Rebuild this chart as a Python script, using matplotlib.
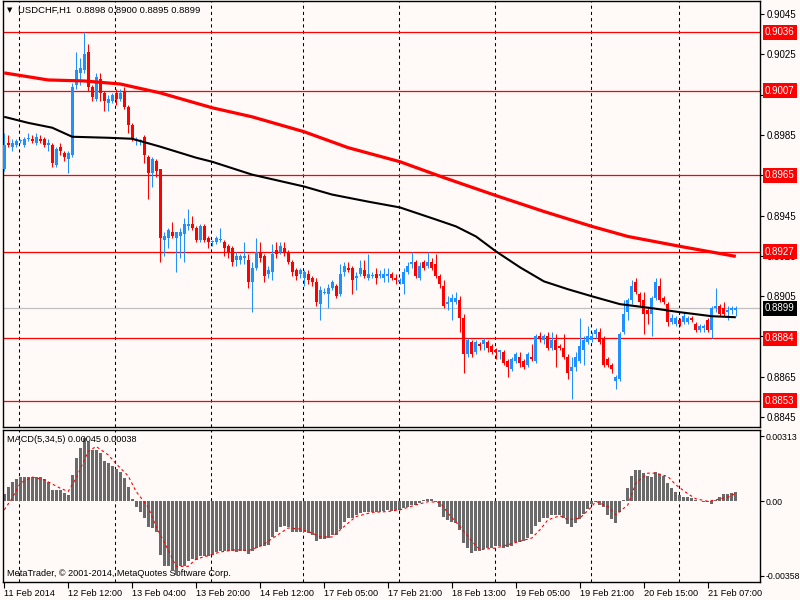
import numpy as np
import matplotlib
matplotlib.use("Agg")
import matplotlib.pyplot as plt
import matplotlib.transforms as mtransforms

plt.rcParams['font.family'] = ['Liberation Sans', 'DejaVu Sans']

# USDCHF H1, prices in pips (x 0.0001)
opens = [
    8968, 8981, 8979, 8980, 8982, 8980, 8983, 8983, 8981, 8983,
    8983, 8980, 8980, 8970, 8979, 8976, 8973, 8975, 9010, 9016,
    9017, 9026, 9009, 9003, 9013, 9006, 9001, 9002, 9006, 9003,
    9007, 8999, 8990, 8982, 8982, 8984, 8974, 8966, 8972, 8968,
    8933, 8934, 8937, 8934, 8935, 8936, 8940, 8941, 8939, 8933,
    8940, 8934, 8932, 8932, 8933, 8932, 8930, 8929, 8923, 8923,
    8924, 8923, 8912, 8919, 8927, 8925, 8916, 8917, 8928, 8927,
    8929, 8927, 8922, 8918, 8916, 8914, 8916, 8914, 8912, 8901,
    8907, 8906, 8909, 8910, 8906, 8917, 8919, 8919, 8914, 8916,
    8918, 8914, 8915, 8916, 8915, 8914, 8915, 8916, 8914, 8912,
    8911, 8917, 8921, 8922, 8914, 8922, 8920, 8922, 8921, 8915,
    8910, 8901, 8902, 8902, 8903, 8894, 8876, 8882, 8877, 8881,
    8881, 8882, 8880, 8878, 8877, 8877, 8873, 8869, 8873, 8875,
    8873, 8871, 8875, 8873, 8885, 8883, 8885, 8879, 8883, 8880,
    8879, 8875, 8868, 8870, 8873, 8878, 8882, 8883, 8886, 8887,
    8884, 8874, 8871, 8863, 8864, 8887, 8897, 8903, 8912, 8906,
    8903, 8898, 8896, 8904, 8910, 8904, 8901, 8892, 8891, 8893,
    8892, 8892, 8894, 8891, 8888, 8889, 8893, 8888, 8899, 8900,
    8899, 8897, 8898, 8898]
highs = [
    8986, 8985, 8983, 8983, 8983, 8984, 8986, 8985, 8986, 8985,
    8984, 8983, 8981, 8979, 8981, 8977, 8977, 9011, 9026, 9023,
    9036, 9030, 9010, 9016, 9016, 9007, 9005, 9006, 9008, 9008,
    9009, 9000, 8991, 8984, 8983, 8985, 8975, 8974, 8973, 8968,
    8937, 8939, 8942, 8937, 8939, 8944, 8948, 8945, 8940, 8941,
    8941, 8935, 8933, 8935, 8939, 8933, 8931, 8930, 8927, 8926,
    8932, 8926, 8922, 8934, 8932, 8926, 8920, 8931, 8932, 8932,
    8932, 8928, 8923, 8919, 8919, 8918, 8918, 8915, 8914, 8910,
    8909, 8911, 8913, 8911, 8921, 8922, 8922, 8920, 8917, 8923,
    8923, 8926, 8917, 8919, 8918, 8919, 8919, 8917, 8916, 8914,
    8919, 8922, 8927, 8923, 8922, 8923, 8927, 8924, 8926, 8916,
    8913, 8905, 8906, 8907, 8905, 8896, 8884, 8883, 8883, 8882,
    8884, 8883, 8881, 8879, 8878, 8878, 8874, 8875, 8877, 8877,
    8874, 8877, 8881, 8886, 8887, 8886, 8887, 8887, 8886, 8881,
    8886, 8876, 8875, 8877, 8894, 8885, 8890, 8887, 8889, 8889,
    8885, 8875, 8872, 8866, 8887, 8903, 8904, 8913, 8914, 8907,
    8907, 8899, 8905, 8914, 8914, 8905, 8902, 8896, 8895, 8894,
    8897, 8895, 8895, 8892, 8891, 8891, 8894, 8900, 8909, 8901,
    8902, 8900, 8900, 8900]
lows = [
    8967, 8979, 8977, 8979, 8981, 8979, 8982, 8981, 8980, 8981,
    8979, 8977, 8969, 8969, 8975, 8972, 8966, 8974, 9008, 9010,
    9016, 9007, 9002, 9002, 9002, 8997, 8997, 9001, 9000, 9002,
    8998, 8986, 8982, 8980, 8980, 8971, 8953, 8959, 8964, 8922,
    8925, 8929, 8934, 8917, 8924, 8922, 8938, 8938, 8932, 8932,
    8932, 8929, 8930, 8931, 8932, 8925, 8924, 8920, 8920, 8921,
    8921, 8909, 8897, 8918, 8922, 8912, 8914, 8913, 8924, 8926,
    8925, 8921, 8915, 8913, 8914, 8910, 8911, 8910, 8900, 8893,
    8906, 8899, 8908, 8904, 8905, 8915, 8917, 8906, 8908, 8915,
    8914, 8913, 8914, 8911, 8914, 8912, 8912, 8913, 8911, 8911,
    8906, 8916, 8919, 8914, 8913, 8918, 8919, 8918, 8914, 8909,
    8899, 8898, 8893, 8901, 8887, 8867, 8875, 8875, 8876, 8878,
    8878, 8877, 8876, 8874, 8874, 8871, 8865, 8868, 8872, 8870,
    8869, 8870, 8873, 8872, 8882, 8881, 8878, 8878, 8870, 8878,
    8874, 8864, 8854, 8868, 8872, 8871, 8881, 8882, 8884, 8881,
    8870, 8870, 8867, 8859, 8863, 8886, 8893, 8901, 8906, 8900,
    8886, 8891, 8885, 8903, 8902, 8901, 8890, 8891, 8890, 8890,
    8891, 8891, 8892, 8887, 8887, 8887, 8887, 8884, 8897, 8895,
    8895, 8893, 8896, 8895]
closes = [
    8980, 8980, 8981, 8982, 8982, 8983, 8983, 8982, 8984, 8982,
    8980, 8981, 8971, 8978, 8977, 8974, 8976, 9009, 9017, 9018,
    9025, 9009, 9004, 9014, 9006, 9002, 9003, 9005, 9003, 9006,
    8999, 8990, 8983, 8983, 8982, 8975, 8966, 8973, 8967, 8934,
    8935, 8938, 8935, 8937, 8937, 8941, 8941, 8939, 8933, 8940,
    8933, 8932, 8932, 8934, 8933, 8929, 8927, 8922, 8925, 8925,
    8925, 8912, 8919, 8927, 8924, 8915, 8918, 8926, 8926, 8930,
    8927, 8922, 8917, 8915, 8918, 8917, 8913, 8912, 8902, 8908,
    8907, 8909, 8912, 8905, 8916, 8920, 8918, 8913, 8915, 8919,
    8915, 8916, 8915, 8914, 8916, 8916, 8916, 8914, 8913, 8913,
    8917, 8920, 8922, 8915, 8920, 8919, 8922, 8919, 8915, 8911,
    8900, 8902, 8904, 8904, 8894, 8876, 8883, 8876, 8882, 8880,
    8883, 8879, 8877, 8877, 8878, 8872, 8870, 8874, 8876, 8872,
    8870, 8876, 8874, 8885, 8884, 8885, 8879, 8883, 8878, 8879,
    8875, 8867, 8870, 8875, 8880, 8883, 8885, 8885, 8888, 8882,
    8871, 8871, 8869, 8865, 8886, 8896, 8903, 8910, 8907, 8902,
    8896, 8896, 8904, 8912, 8903, 8902, 8892, 8894, 8894, 8891,
    8895, 8894, 8893, 8888, 8890, 8890, 8888, 8899, 8900, 8896,
    8896, 8898, 8899, 8899]

# moving averages read at sample bars
ma_red_bars = [0, 11, 20, 29, 39, 52, 62, 75, 86, 99, 110, 123, 135, 147, 156, 169, 183]
ma_red = [0.90158, 0.90123, 0.90118, 0.90103, 0.90059, 0.89985, 0.89940, 0.89866, 0.89787,
          0.89717, 0.89638, 0.89549, 0.89470, 0.89396, 0.89346, 0.89297, 0.89247]
ma_black_bars = [0, 6, 12, 17, 26, 32, 39, 48, 52, 62, 75, 82, 91, 99, 108, 113, 118, 123,
                 129, 135, 141, 147, 154, 162, 169, 177, 183]
ma_black = [0.89940, 0.89910, 0.89886, 0.89841, 0.89836, 0.89831, 0.89792, 0.89737, 0.89717,
            0.89653, 0.89594, 0.89554, 0.89519, 0.89490, 0.89430, 0.89396, 0.89346, 0.89272,
            0.89193, 0.89123, 0.89084, 0.89049, 0.89010, 0.88990, 0.88970, 0.88950, 0.88945]

# MACD(5,34,5) histogram, one per bar
macd = [
    0.00036, 0.00071, 0.00095, 0.00108, 0.00116, 0.00116, 0.00116, 0.00116, 0.00116, 0.00116,
    0.00106, 0.00095, 0.00055, 0.00055, 0.00052, 0.00042, 0.00031, 0.00127, 0.00210, 0.00258,
    0.00303, 0.00286, 0.00247, 0.00247, 0.00231, 0.00194, 0.00183, 0.00167, 0.00154, 0.00140,
    0.00114, 0.00068, 0.00012, -0.00025, -0.00049, -0.00078, -0.00125, -0.00128, -0.00149, -0.00256,
    -0.00312, -0.00312, -0.00336, -0.00352, -0.00312, -0.00312, -0.00288, -0.00277, -0.00280, -0.00264,
    -0.00264, -0.00260, -0.00256, -0.00243, -0.00237, -0.00237, -0.00237, -0.00240, -0.00243, -0.00237,
    -0.00237, -0.00253, -0.00237, -0.00224, -0.00213, -0.00213, -0.00208, -0.00173, -0.00145, -0.00125,
    -0.00117, -0.00124, -0.00149, -0.00145, -0.00145, -0.00149, -0.00152, -0.00160, -0.00188, -0.00181,
    -0.00181, -0.00176, -0.00160, -0.00160, -0.00133, -0.00097, -0.00078, -0.00078, -0.00065, -0.00057,
    -0.00053, -0.00053, -0.00053, -0.00049, -0.00049, -0.00046, -0.00044, -0.00046, -0.00044, -0.00044,
    -0.00033, -0.00025, -0.00017, -0.00017, -0.00009, 0.00004, 0.00012, 0.00012, -0.00002, -0.00025,
    -0.00073, -0.00089, -0.00101, -0.00105, -0.00137, -0.00200, -0.00224, -0.00248, -0.00240, -0.00236,
    -0.00228, -0.00224, -0.00224, -0.00216, -0.00216, -0.00224, -0.00220, -0.00213, -0.00197, -0.00197,
    -0.00192, -0.00176, -0.00156, -0.00119, -0.00097, -0.00078, -0.00078, -0.00065, -0.00065, -0.00068,
    -0.00078, -0.00108, -0.00121, -0.00105, -0.00085, -0.00060, -0.00037, -0.00015, -0.00003, -0.00017,
    -0.00028, -0.00065, -0.00085, -0.00105, -0.00049, 0.00005, 0.00063, 0.00122, 0.00151, 0.00151,
    0.00135, 0.00122, 0.00116, 0.00140, 0.00132, 0.00122, 0.00087, 0.00063, 0.00047, 0.00031,
    0.00023, 0.00023, 0.00015, 0.00007, 0.00001, -0.00005, -0.00002, -0.00013, 0.00007, 0.00020,
    0.00036, 0.00036, 0.00040, 0.00045]
signal_bars = [0, 2, 4, 7, 10, 14, 16, 18, 21, 23, 26, 28, 31, 33, 36, 38, 41, 43, 46, 48,
               51, 54, 58, 61, 64, 66, 71, 74, 77, 79, 82, 85, 88, 92, 96, 99, 103, 106, 109,
               111, 114, 117, 119, 123, 126, 129, 132, 134, 136, 139, 141, 144, 147, 148, 151,
               153, 156, 158, 161, 163, 166, 168, 171, 173, 176, 178, 181, 183]
signal = [-0.00041, 0.00015, 0.00087, 0.00116, 0.00103, 0.00063, 0.00047, 0.00111, 0.00239,
          0.00263, 0.00223, 0.00180, 0.00122, 0.00047, -0.00028, -0.00121, -0.00232, -0.00312,
          -0.00312, -0.00277, -0.00261, -0.00243, -0.00232, -0.00237, -0.00216, -0.00192,
          -0.00128, -0.00133, -0.00152, -0.00171, -0.00171, -0.00121, -0.00073, -0.00053,
          -0.00049, -0.00041, -0.00017, -0.00002, -0.00005, -0.00057, -0.00121, -0.00192,
          -0.00232, -0.00224, -0.00208, -0.00192, -0.00176, -0.00137, -0.00089, -0.00069,
          -0.00089, -0.00081, -0.00025, 0.00000, -0.00025, -0.00065, -0.00017, 0.00087,
          0.00135, 0.00135, 0.00119, 0.00079, 0.00036, 0.00012, 0.00000, 0.00007, 0.00020,
          0.00038]

levels = [0.9036, 0.9007, 0.8965, 0.8927, 0.8884, 0.8853]
price_ticks = [0.9045, 0.9025, 0.9005, 0.8985, 0.8965, 0.8945, 0.8925, 0.8905, 0.8885, 0.8865, 0.8845]
macd_ticks = [0.00313, 0.0, -0.00358]
macd_tick_labels = ['0.00313', '0.00', '-0.00358']
day_starts = [4, 28, 52, 75, 99, 123, 147, 169]
time_labels = ['11 Feb 2014', '12 Feb 12:00', '13 Feb 04:00', '13 Feb 20:00', '14 Feb 12:00',
               '17 Feb 05:00', '17 Feb 21:00', '18 Feb 13:00', '19 Feb 05:00', '19 Feb 21:00',
               '20 Feb 15:00', '21 Feb 07:00']

BG = '#FFFAF8'
BLUE = '#1E90FF'
RED = '#FF0000'

o = np.array(opens) / 10000
h = np.array(highs) / 10000
l = np.array(lows) / 10000
c = np.array(closes) / 10000
idx = np.arange(len(c))

W, H = 800, 600
fig = plt.figure(figsize=(8, 6), dpi=100, facecolor=BG)


def px_axes(x0, y0, x1, y1):
    a = fig.add_axes([x0 / W, 1 - y1 / H, (x1 - x0) / W, (y1 - y0) / H])
    a.set_facecolor(BG)
    for s in a.spines.values():
        s.set_linewidth(1)
        s.set_color('black')
    return a


ax = px_axes(3, 1, 760, 427)
am = px_axes(3, 430, 760, 582)
for a in (ax, am):
    a.set_xlim(-0.3, 189.05)
    for d in day_starts:
        a.axvline(d - 0.2, color='black', lw=0.75, ls=(0, (3, 3)), zorder=1)

# price panel
ax.set_ylim(0.88400, 0.90515)
ax.axhline(c[-1], color='#C0C0C0', lw=0.9, zorder=1)
for lv in levels:
    ax.axhline(lv, color=RED, lw=0.9, zorder=1.5)

up = c >= o
cols = np.where(up, BLUE, RED)
ax.vlines(idx, l, h, colors=cols, lw=0.75, zorder=3)
body = np.maximum(np.abs(c - o), 0.00005)
mid = (o + c) / 2
ax.bar(idx, body, bottom=mid - body / 2, width=0.75, color=cols, lw=0, zorder=3)

ax.plot(ma_red_bars, ma_red, color=RED, lw=2.3, zorder=4, solid_capstyle='butt')
ax.plot(ma_black_bars, ma_black, color='black', lw=1.5, zorder=4, solid_capstyle='butt')

# tick labels that sit fully under a level box are not shown (as in the terminal)
shown = [f'{t:.4f}' if min(abs(t - lv) for lv in levels) > 0.00025 or abs(t - 0.8925) < 1e-6
         else '' for t in price_ticks]
ax.set_xticks([])
ax.yaxis.tick_right()
ax.set_yticks(price_ticks)
ax.set_yticklabels(shown)
ax.tick_params(axis='y', length=3, width=0.8, pad=2, labelsize=7)

trans = mtransforms.blended_transform_factory(ax.transAxes, ax.transData)
for lv in levels:
    ax.text(1 + 5 / 757, lv, f'{lv:.4f}', transform=trans, ha='left', va='center',
            fontsize=7, color='white', zorder=10, clip_on=False,
            bbox=dict(boxstyle='square,pad=0.25', fc=RED, ec='none'))
ax.text(1 + 5 / 757, c[-1], f'{c[-1]:.4f}', transform=trans, ha='left', va='center',
        fontsize=7, color='white', zorder=10, clip_on=False,
        bbox=dict(boxstyle='square,pad=0.25', fc='black', ec='none'))

# MACD panel
am.set_ylim(-0.00387, 0.00342)
am.bar(idx, macd, width=0.75, color='#6A6A6A', lw=0, zorder=2)
am.plot(signal_bars, signal, color=RED, lw=0.8, ls=(0, (2.5, 2.5)), zorder=3)
am.yaxis.tick_right()
am.set_yticks(macd_ticks)
am.set_yticklabels(macd_tick_labels)
am.tick_params(axis='y', length=3, width=0.8, pad=1, labelsize=6.3)
am.set_xticks(np.arange(0, len(c), 16)[:len(time_labels)])
am.set_xticklabels(time_labels)
am.tick_params(axis='x', length=4, width=0.8, pad=1, labelsize=6.6)
for t in am.get_xticklabels():
    t.set_ha('left')

am.text(4 / 757, 1 - 10 / 152,
        f'MACD(5,34,5) {macd[-1]:.5f} {signal[-1]:.5f}',
        transform=am.transAxes, fontsize=6.6, va='center', ha='left', zorder=5)
am.text(4 / 757, 8 / 152, 'MetaTrader, © 2001-2014, MetaQuotes Software Corp.',
        transform=am.transAxes, fontsize=6.6, va='center', ha='left', zorder=1)

fig.text(7 / W, 1 - 10 / H, '▼', fontsize=5, va='center', ha='left',
         family=['DejaVu Sans'])
fig.text(18 / W, 1 - 10 / H,
         f'USDCHF,H1  {o[-1]:.4f} {h[-1]:.4f} {l[-1]:.4f} {c[-1]:.4f}',
         fontsize=6.8, va='center', ha='left')

fig.savefig('out.png', dpi=100, facecolor=BG)
